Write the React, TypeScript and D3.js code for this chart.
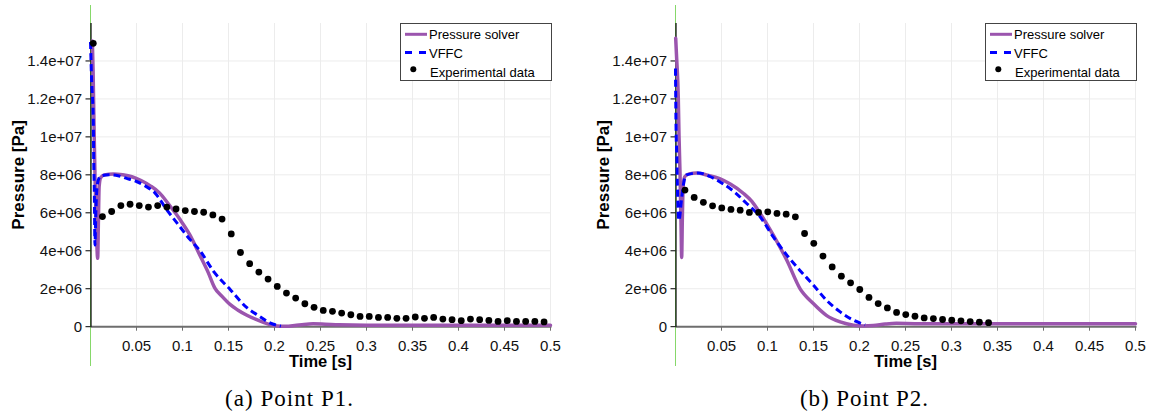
import React from "react";
import * as d3 from "d3";

// Time [s], pressure [Pa] pairs (pressure given in units of 1e6 Pa)
const p1Solver: [number, number][] = [
  [0.002, 15.05], [0.0028, 13.5], [0.0035, 11.5], [0.0042, 9.6], [0.0049, 7.9], [0.0062, 5.5],
  [0.0078, 3.6], [0.0086, 5.6], [0.0094, 7.4], [0.011, 7.85], [0.015, 8.0], [0.025, 8.05],
  [0.035, 8.0], [0.045, 7.9], [0.055, 7.7], [0.065, 7.42], [0.075, 7.05], [0.085, 6.45],
  [0.097, 5.67], [0.108, 4.84], [0.119, 3.75], [0.128, 2.85], [0.135, 2.05], [0.143, 1.6],
  [0.152, 1.16], [0.16, 0.88], [0.17, 0.6], [0.18, 0.38], [0.188, 0.23], [0.196, 0.1],
  [0.203, 0.04], [0.212, 0.02], [0.222, 0.06], [0.232, 0.12], [0.242, 0.15], [0.255, 0.13],
  [0.27, 0.1], [0.3, 0.08], [0.35, 0.08], [0.4, 0.08], [0.45, 0.08], [0.5, 0.08],
];

const p1Vffc: [number, number][] = [
  [0.0, 15.0], [0.0012, 13.0], [0.003, 10.9], [0.0035, 8.8], [0.0042, 7.0], [0.0048, 4.3],
  [0.0058, 6.0], [0.007, 7.3], [0.009, 7.8], [0.012, 7.95], [0.02, 8.0], [0.03, 7.95],
  [0.04, 7.8], [0.05, 7.65], [0.06, 7.4], [0.07, 7.05], [0.083, 6.16], [0.097, 5.28],
  [0.108, 4.6], [0.119, 4.0], [0.134, 2.9], [0.152, 1.95], [0.17, 1.0], [0.184, 0.54],
  [0.195, 0.2], [0.207, 0.03],
];

const p1Exp: [number, number][] = [
  [0.003, 14.93], [0.013, 5.8], [0.023, 6.07], [0.033, 6.38], [0.043, 6.45], [0.053, 6.38],
  [0.063, 6.3], [0.073, 6.38], [0.083, 6.3], [0.093, 6.2], [0.103, 6.12], [0.113, 6.07],
  [0.123, 6.03], [0.133, 5.89], [0.143, 5.67], [0.153, 4.89], [0.163, 3.91], [0.173, 3.32],
  [0.183, 2.88], [0.193, 2.51], [0.203, 2.12], [0.213, 1.77], [0.223, 1.51], [0.233, 1.21],
  [0.243, 1.02], [0.253, 0.86], [0.263, 0.81], [0.273, 0.72], [0.283, 0.63], [0.293, 0.54],
  [0.303, 0.54], [0.313, 0.49], [0.323, 0.49], [0.333, 0.44], [0.343, 0.44], [0.353, 0.51],
  [0.363, 0.44], [0.373, 0.49], [0.383, 0.4], [0.393, 0.37], [0.403, 0.32], [0.413, 0.4],
  [0.423, 0.37], [0.433, 0.33], [0.443, 0.28], [0.453, 0.32], [0.463, 0.28], [0.473, 0.28],
  [0.483, 0.28], [0.493, 0.25],
];

const p2Solver: [number, number][] = [
  [0.0002, 15.2], [0.0013, 14.1], [0.003, 12.1], [0.0038, 10.1], [0.0049, 8.1], [0.006, 5.5],
  [0.0067, 3.65], [0.0074, 5.6], [0.0083, 7.4], [0.01, 7.9], [0.015, 8.05], [0.023, 8.1],
  [0.035, 7.98], [0.048, 7.8], [0.06, 7.5], [0.074, 7.02], [0.083, 6.6], [0.092, 5.97],
  [0.1063, 4.82], [0.121, 3.5], [0.1353, 2.01], [0.1498, 1.22], [0.164, 0.6], [0.179, 0.25],
  [0.1935, 0.08], [0.204, 0.04], [0.215, 0.06], [0.228, 0.14], [0.24, 0.18], [0.26, 0.16],
  [0.3, 0.15], [0.35, 0.15], [0.4, 0.15], [0.45, 0.15], [0.5, 0.15],
];

const p2Vffc: [number, number][] = [
  [0.0, 13.6], [0.0005, 10.9], [0.0015, 8.8], [0.002, 7.55], [0.0038, 5.6], [0.0065, 6.7],
  [0.009, 7.6], [0.012, 8.0], [0.025, 8.1], [0.038, 7.9], [0.051, 7.55], [0.064, 7.1],
  [0.0774, 6.49], [0.092, 5.79], [0.1063, 4.73], [0.121, 3.77], [0.135, 2.98], [0.15, 2.19],
  [0.164, 1.4], [0.179, 0.78], [0.1935, 0.34], [0.202, 0.17], [0.206, 0.1],
];

const p2Exp: [number, number][] = [
  [0.0103, 7.2], [0.0203, 6.81], [0.0303, 6.55], [0.0403, 6.37], [0.0503, 6.26], [0.0603, 6.18],
  [0.0703, 6.14], [0.0803, 6.02], [0.0903, 6.02], [0.1003, 6.05], [0.1103, 5.97], [0.1203, 5.93],
  [0.1303, 5.79], [0.1403, 4.91], [0.1503, 4.39], [0.1603, 3.72], [0.1703, 3.15], [0.1803, 2.66],
  [0.1903, 2.31], [0.2003, 1.96], [0.2103, 1.54], [0.2203, 1.22], [0.2303, 0.99], [0.2403, 0.75],
  [0.2503, 0.64], [0.2603, 0.55], [0.2703, 0.46], [0.2803, 0.43], [0.2903, 0.38], [0.3003, 0.34],
  [0.3103, 0.31], [0.3203, 0.27], [0.3303, 0.24], [0.3403, 0.21],
];

const xTicks = [0.05, 0.1, 0.15, 0.2, 0.25, 0.3, 0.35, 0.4, 0.45, 0.5];
const xTickLabels = ["0.05", "0.1", "0.15", "0.2", "0.25", "0.3", "0.35", "0.4", "0.45", "0.5"];
const yTicks = [0, 2e6, 4e6, 6e6, 8e6, 1e7, 1.2e7, 1.4e7];
const yTickLabels = ["0", "2e+06", "4e+06", "6e+06", "8e+06", "1e+07", "1.2e+07", "1.4e+07"];
const legendLabels = ["Pressure solver", "VFFC", "Experimental data"];
const captions = ["(a) Point P1.", "(b) Point P2."];

const PURPLE = "#9b55ae";
const BLUE = "#0000ff";
const GRID = "#ececec";
const SANS = "'Liberation Sans', Arial, Helvetica, sans-serif";

const x = d3.scaleLinear().domain([0, 0.5]).range([90.5, 550.5]);
const y = d3.scaleLinear().domain([0, 1.6e7]).range([326.7, 23]);

const line = d3
  .line<[number, number]>()
  .x((d) => x(d[0]))
  .y((d) => y(d[1] * 1e6))
  .curve(d3.curveMonotoneX);

type PanelProps = {
  ox: number;
  solver: [number, number][];
  vffc: [number, number][];
  exp: [number, number][];
  caption: string;
  captionX: number;
};

function Panel({ ox, solver, vffc, exp, caption, captionX }: PanelProps) {
  const [x0, x1] = x.range();
  const [y0, y1] = y.range();
  const lx = 400.5;
  const ly = 23.5;
  return (
    <g>
      <g transform={`translate(${ox},0)`}>
        {/* grid */}
        {xTicks.map((t) => (
          <line key={"gx" + t} x1={x(t)} x2={x(t)} y1={y1} y2={y0} stroke={GRID} strokeWidth={1} />
        ))}
        {yTicks.slice(1).map((t) => (
          <line key={"gy" + t} x1={x0} x2={x1} y1={y(t)} y2={y(t)} stroke={GRID} strokeWidth={1} />
        ))}
        {/* green reference line at t = 0 */}
        <line x1={x0} x2={x0} y1={5} y2={366} stroke="#86d86a" strokeWidth={1} />
        {/* axes */}
        <line x1={x0} x2={x1 + 1} y1={y0} y2={y0} stroke="#6e6e6e" strokeWidth={2} />
        <line x1={x0 + 0.5} x2={x0 + 0.5} y1={y1} y2={y0} stroke="#000" strokeWidth={1.2} />
        {xTicks.map((t, i) => (
          <g key={"tx" + t}>
            <line x1={x(t)} x2={x(t)} y1={y0} y2={y0 + 4} stroke="#6e6e6e" strokeWidth={1} />
            <text x={x(t)} y={351} textAnchor="middle" fontFamily={SANS} fontSize={15} fill="#111">
              {xTickLabels[i]}
            </text>
          </g>
        ))}
        {yTicks.map((t, i) => (
          <g key={"ty" + t}>
            <line x1={x0 - 5} x2={x0} y1={y(t)} y2={y(t)} stroke="#000" strokeWidth={1} />
            <text x={82} y={y(t) + 5.4} textAnchor="end" fontFamily={SANS} fontSize={15} fill="#111">
              {yTickLabels[i]}
            </text>
          </g>
        ))}
        {/* axis titles */}
        <text
          x={(x0 + x1) / 2}
          y={367}
          textAnchor="middle"
          fontFamily={SANS}
          fontWeight="bold"
          fontSize={16.5}
          fill="#000"
        >
          Time [s]
        </text>
        <text
          transform={`translate(23.5,${(y0 + y1) / 2}) rotate(-90)`}
          textAnchor="middle"
          fontFamily={SANS}
          fontWeight="bold"
          fontSize={17}
          fill="#000"
        >
          Pressure [Pa]
        </text>
        {/* series */}
        <path d={line(solver) ?? ""} fill="none" stroke={PURPLE} strokeWidth={3.5} strokeLinejoin="round" strokeLinecap="round" />
        <path d={line(vffc) ?? ""} fill="none" stroke={BLUE} strokeWidth={3} strokeDasharray="7,4" />
        {exp.map((d, i) => (
          <circle key={"e" + i} cx={x(d[0])} cy={y(d[1] * 1e6)} r={3.4} fill="#000" />
        ))}
        {/* legend */}
        <rect x={lx} y={ly} width={151} height={57} fill="#fff" stroke="#444" strokeWidth={1} />
        <line x1={405} x2={427} y1={34.3} y2={34.3} stroke={PURPLE} strokeWidth={3} />
        <line x1={405} x2={426} y1={52.5} y2={52.5} stroke={BLUE} strokeWidth={3} strokeDasharray="7,7" />
        <circle cx={413.3} cy={69.3} r={3} fill="#000" />
        <text x={429} y={39.3} fontFamily={SANS} fontSize={13} fill="#000">{legendLabels[0]}</text>
        <text x={429} y={58.3} fontFamily={SANS} fontSize={13} fill="#000">{legendLabels[1]}</text>
        <text x={430} y={77.3} fontFamily={SANS} fontSize={13} fill="#000">{legendLabels[2]}</text>
      </g>
      <text
        x={captionX}
        y={406}
        textAnchor="middle"
        fontFamily="'Liberation Serif', 'Times New Roman', serif"
        fontSize={23}
        textLength={128}
        lengthAdjust="spacing"
        fill="#000"
      >
        {caption}
      </text>
    </g>
  );
}

export default function App() {
  return (
    <svg
      width={1151}
      height={415}
      style={{ position: "absolute", left: 0, top: 0, background: "#fff" }}
    >
      <rect width={1151} height={415} fill="#fff" />
      <Panel ox={0} solver={p1Solver} vffc={p1Vffc} exp={p1Exp} caption={captions[0]} captionX={289} />
      <Panel ox={585} solver={p2Solver} vffc={p2Vffc} exp={p2Exp} caption={captions[1]} captionX={864} />
    </svg>
  );
}
